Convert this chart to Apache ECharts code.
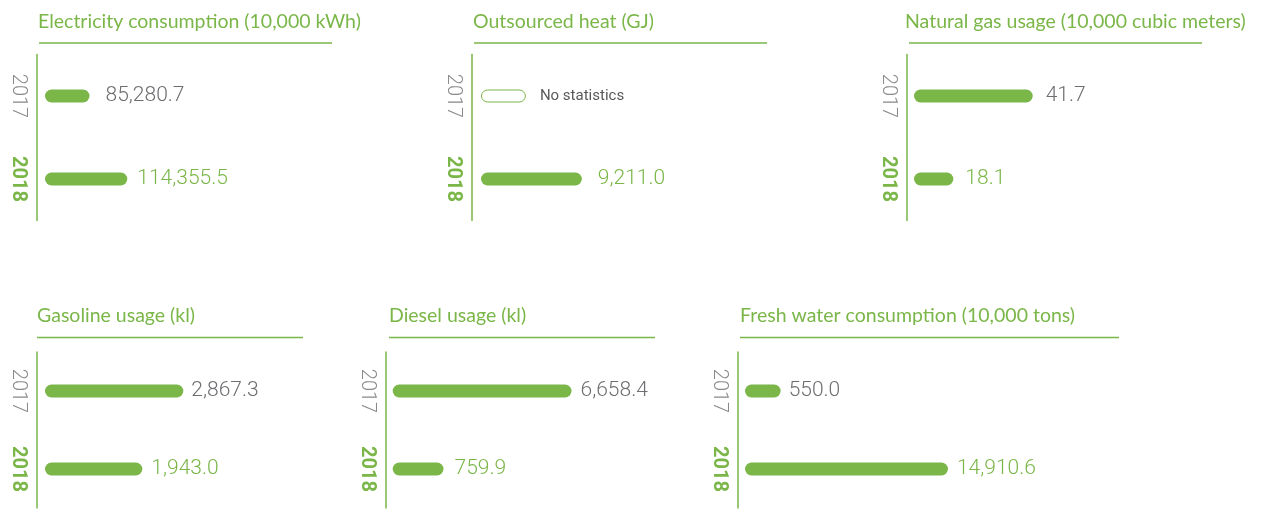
<!DOCTYPE html>
<html>
<head>
<meta charset="utf-8">
<script src="https://cdn.jsdelivr.net/npm/echarts@6/dist/echarts.min.js"></script>
<style>
  html, body { margin: 0; padding: 0; background: #ffffff; }
  #chart { width: 1266px; height: 510px; }
</style>
</head>
<body>
<div id="chart"></div>
<script>
// Resource use, 2017 vs 2018
const years = ['2017', '2018'];
const panelTitles = [
  'Electricity consumption (10,000 kWh)',
  'Outsourced heat (GJ)',
  'Natural gas usage (10,000 cubic meters)',
  'Gasoline usage (kl)',
  'Diesel usage (kl)',
  'Fresh water consumption (10,000 tons)'
];
const electricity = [85280.7, 114355.5];
const outsourcedHeat = [null, 9211.0];
const naturalGas = [41.7, 18.1];
const gasoline = [2867.3, 1943.0];
const diesel = [6658.4, 759.9];
const freshWater = [550.0, 14910.6];
// hollow placeholder bar for years that were not tracked
const heatPlaceholder = [4100, null];
const noStatsText = 'No statistics';

const GREEN = '#7ab648';
const GRAY = '#6d6e71';
const yearColors = [GRAY, GREEN];

// Panel layout: title/underline position, grid box, axis offset, value range, label gaps
const panels = [
  { values: electricity, titleX: 38, titleY: 11, line: [39, 332, 43], left: 45, top: 54.5, height: 166, offset: 8, min: 51000, max: 282000, gaps: [16, 10] },
  { values: outsourcedHeat, titleX: 473, titleY: 11, line: [474, 767, 43], left: 481, top: 54.5, height: 166, offset: 9.3, min: 0, max: 27400, gaps: [16, 16], placeholder: heatPlaceholder },
  { values: naturalGas, titleX: 905, titleY: 11, line: [909, 1202, 43], left: 914, top: 54.5, height: 166, offset: 7, min: 6.4, max: 95.6, gaps: [13, 12] },
  { values: gasoline, titleX: 37, titleY: 305, line: [37, 303, 337.5], left: 45, top: 352, height: 156, offset: 8.3, min: -250, max: 6510, gaps: [8, 9] },
  { values: diesel, titleX: 389, titleY: 305, line: [389, 655, 337.5], left: 392.7, top: 352, height: 156, offset: 7, min: -1580, max: 12240, gaps: [9, 11] },
  { values: freshWater, titleX: 740, titleY: 305, line: [740, 1119, 337.5], left: 745, top: 352, height: 156, offset: 7.3, min: -2510, max: 23240, gaps: [8, 9] }
];

const fmt = v => v.toLocaleString('en-US', { minimumFractionDigits: 1, maximumFractionDigits: 1 });

const grid = [], xAxis = [], yAxis = [], series = [], title = [], graphic = [];

panels.forEach((p, i) => {
  title.push({
    text: panelTitles[i],
    left: p.titleX,
    top: p.titleY,
    padding: 0,
    textStyle: { color: GREEN, fontSize: 19.5, fontWeight: 'normal', fontFamily: 'Lato', lineHeight: 22 }
  });
  graphic.push({
    type: 'line',
    shape: { x1: p.line[0], y1: p.line[2], x2: p.line[1], y2: p.line[2] },
    style: { stroke: GREEN, lineWidth: 1.3 },
    silent: true
  });
  grid.push({ left: p.left, top: p.top, width: 300, height: p.height });
  xAxis.push({
    type: 'value', gridIndex: i, min: p.min, max: p.max, startValue: p.min,
    show: false, splitLine: { show: false }
  });
  yAxis.push({
    type: 'category', gridIndex: i, data: years, inverse: true, offset: p.offset,
    axisLine: { show: true, onZero: false, lineStyle: { color: GREEN, width: 1.5 } },
    axisTick: { show: false },
    axisLabel: {
      rotate: -90, margin: 9,
      formatter: (v, idx) => idx === 0 ? '{a|' + v + '}' : '{b|' + v + '}',
      rich: {
        a: { color: '#8a8b8d', fontSize: 20, fontFamily: 'Roboto', fontWeight: 300 },
        b: { color: GREEN, fontSize: 20, fontFamily: 'Roboto', fontWeight: 'bold' }
      }
    }
  });
  series.push({
    type: 'bar', xAxisIndex: i, yAxisIndex: i,
    barWidth: 13, barGap: '-100%',
    data: p.values.map((v, k) => ({ value: v, label: { color: yearColors[k], distance: p.gaps[k] } })),
    itemStyle: { color: GREEN, borderRadius: 6.5 },
    label: {
      show: true, position: 'right',
      fontSize: 21, fontFamily: 'Roboto', fontWeight: 300,
      formatter: d => d.value == null ? '' : fmt(d.value)
    },
    silent: true
  });
  if (p.placeholder) {
    series.push({
      type: 'bar', xAxisIndex: i, yAxisIndex: i,
      barWidth: 13, barGap: '-100%',
      data: p.placeholder,
      itemStyle: { color: '#ffffff', borderColor: GREEN, borderWidth: 1, borderRadius: 6.5 },
      label: {
        show: true, position: 'right', distance: 14,
        color: '#58595b', fontSize: 15, fontFamily: 'Liberation Sans Narrow, Roboto',
        formatter: () => noStatsText
      },
      silent: true
    });
  }
});

const chart = echarts.init(document.getElementById('chart'), null, { renderer: 'canvas' });
chart.setOption({
  backgroundColor: '#ffffff',
  animation: false,
  title, grid, xAxis, yAxis, series, graphic
});
</script>
</body>
</html>
